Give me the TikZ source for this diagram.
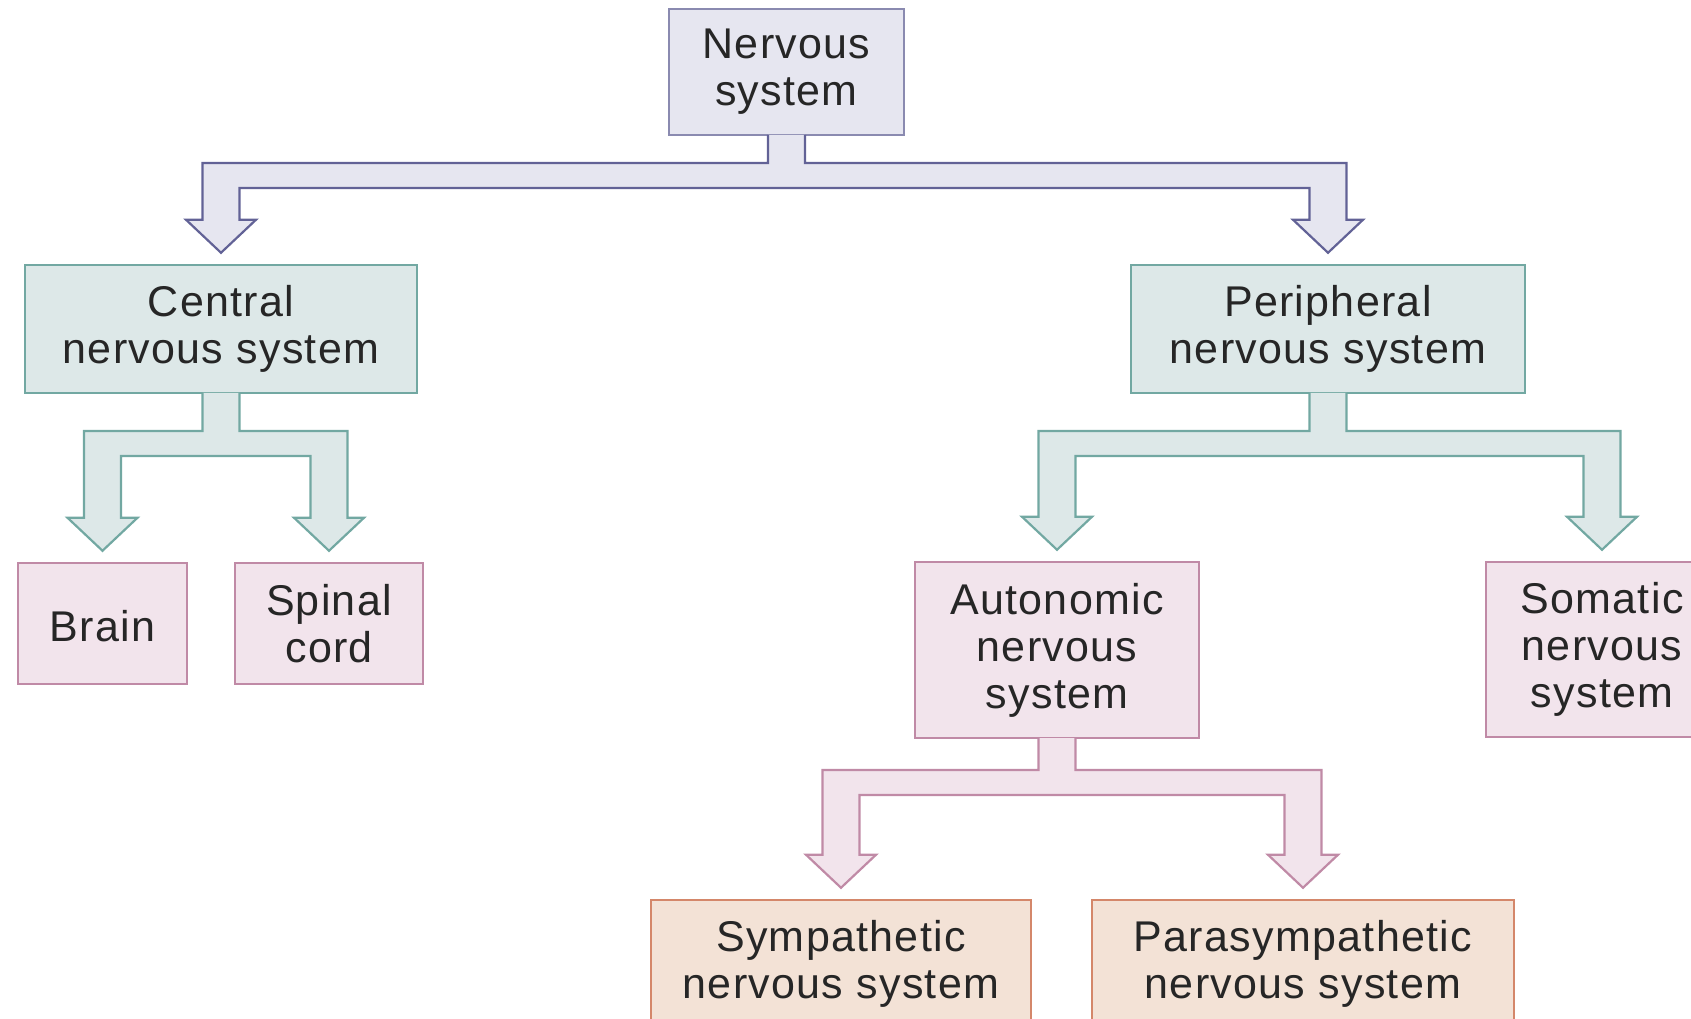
\documentclass[tikz,border=0pt]{standalone}
\usepackage{fontspec}
\setmainfont{Liberation Sans}[LetterSpace=3]
\usetikzlibrary{calc}
\definecolor{lavF}{HTML}{E6E6F0}
\definecolor{lavD}{HTML}{8A8AB0}
\definecolor{lavA}{HTML}{626296}
\definecolor{tealF}{HTML}{DDE8E8}
\definecolor{tealD}{HTML}{72A8A2}
\definecolor{pinkF}{HTML}{F2E4EC}
\definecolor{pinkD}{HTML}{C08AA6}
\definecolor{peachF}{HTML}{F3E2D6}
\definecolor{peachD}{HTML}{D4876A}
\tikzset{
  box/.style={draw, line width=2.5pt, inner sep=0pt, align=center, text=black!85,
    font=\fontsize{43}{47}\selectfont,
    execute at begin node={\rule{0pt}{37pt}}},
  lavbox/.style={box, fill=lavF, draw=lavD},
  tealbox/.style={box, fill=tealF, draw=tealD},
  pinkbox/.style={box, fill=pinkF, draw=pinkD},
  peachbox/.style={box, fill=peachF, draw=peachD},
  forkline/.style={line width=2.2pt, line join=miter},
}
% #1 parent, #2 left child, #3 right child, #4 bar top (pt), #5 fill, #6 line
\newcommand{\forkarrow}[6]{%
  \filldraw[forkline, fill=#5, draw=#6] let \p0=(#1.south), \p1=(#2.north), \p2=(#3.north) in
    ({\x0-18.5pt},{\y0+1.25pt}) -- ({\x0-18.5pt},{#4}) -- ({\x1-18.5pt},{#4})
    -- ({\x1-18.5pt},{\y1+44pt}) -- ({\x1-35pt},{\y1+44pt}) -- ({\x1},{\y1+11pt})
    -- ({\x1+35pt},{\y1+44pt}) -- ({\x1+18.5pt},{\y1+44pt}) -- ({\x1+18.5pt},{#4-25pt})
    -- ({\x2-18.5pt},{#4-25pt}) -- ({\x2-18.5pt},{\y2+44pt}) -- ({\x2-35pt},{\y2+44pt})
    -- ({\x2},{\y2+11pt}) -- ({\x2+35pt},{\y2+44pt}) -- ({\x2+18.5pt},{\y2+44pt})
    -- ({\x2+18.5pt},{#4}) -- ({\x0+18.5pt},{#4}) -- ({\x0+18.5pt},{\y0+1.25pt});
}
\begin{document}
\begin{tikzpicture}[x=1pt,y=1pt]
\useasboundingbox (0,0) rectangle (1691,1018);
\clip (0,0) rectangle (1691,1018);
\node[lavbox, minimum width=235pt, minimum height=126pt] (ns) at (786.5,946) {Nervous\\system};
\node[tealbox, minimum width=392pt, minimum height=128pt] (cns) at (221,689) {Central\\nervous system};
\node[tealbox, minimum width=394pt, minimum height=128pt] (pns) at (1328,689) {Peripheral\\nervous system};
\node[pinkbox, minimum width=169pt, minimum height=121pt] (brain) at (102.5,394.5) {Brain};
\node[pinkbox, minimum width=188pt, minimum height=121pt] (spinal) at (329,394.5) {Spinal\\cord};
\node[pinkbox, minimum width=284pt, minimum height=176pt] (ans) at (1057,368) {Autonomic\\nervous\\system};
\node[pinkbox, minimum width=232pt, minimum height=175pt] (sns) at (1602,368.5) {Somatic\\nervous\\system};
\node[peachbox, minimum width=380pt, minimum height=128pt] (sym) at (841,54) {Sympathetic\\nervous system};
\node[peachbox, minimum width=422pt, minimum height=128pt] (para) at (1303,54) {Parasympathetic\\nervous system};
\forkarrow{ns}{cns}{pns}{855pt}{lavF}{lavA}
\forkarrow{cns}{brain}{spinal}{587pt}{tealF}{tealD}
\forkarrow{pns}{ans}{sns}{587pt}{tealF}{tealD}
\forkarrow{ans}{sym}{para}{248pt}{pinkF}{pinkD}
\end{tikzpicture}
\end{document}
